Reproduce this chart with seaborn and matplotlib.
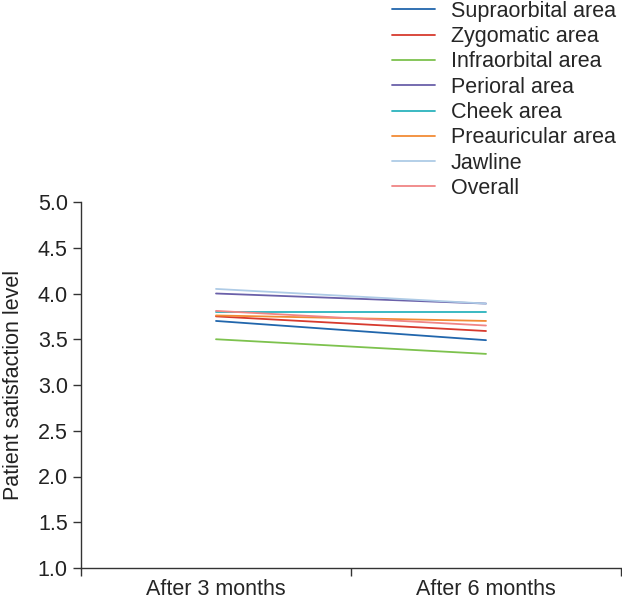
import numpy as np
import pandas as pd
import seaborn as sns
import matplotlib.pyplot as plt
from matplotlib.ticker import FixedLocator, NullFormatter, FixedFormatter

# Data
timepoints = ["After 3 months", "After 6 months"]
areas = ["Supraorbital area", "Zygomatic area", "Infraorbital area", "Perioral area",
         "Cheek area", "Preauricular area", "Jawline", "Overall"]
after_3m = [3.70, 3.75, 3.50, 4.00, 3.80, 3.76, 4.05, 3.81]
after_6m = [3.49, 3.59, 3.34, 3.89, 3.80, 3.70, 3.89, 3.65]
colors = ["#2166ac", "#d73a2e", "#7dc24e", "#6a60a9",
          "#2bb3bd", "#f28b35", "#aecbe6", "#f08585"]

df = pd.DataFrame({
    "area": areas * 2,
    "time": [0.5] * len(areas) + [1.5] * len(areas),
    "score": after_3m + after_6m,
})

sns.set_style("ticks")
plt.rcParams["font.family"] = ["Liberation Sans", "DejaVu Sans"]
FS = 15.5

fig = plt.figure(figsize=(6.22, 5.99), dpi=100)
ax = fig.add_axes([81 / 622, 31 / 599, 540 / 622, 366 / 599])

sns.lineplot(data=df, x="time", y="score", hue="area", hue_order=areas,
             palette=colors, linewidth=1.3, ax=ax, legend=False)

ax.set_xlim(0, 2)
ax.set_ylim(1.0, 5.0)
ax.set_yticks(np.arange(1.0, 5.01, 0.5))
ax.set_yticklabels([f"{v:.1f}" for v in np.arange(1.0, 5.01, 0.5)], fontsize=FS)
ax.xaxis.set_major_locator(FixedLocator([0, 1, 2]))
ax.xaxis.set_major_formatter(NullFormatter())
ax.xaxis.set_minor_locator(FixedLocator([0.5, 1.5]))
ax.xaxis.set_minor_formatter(FixedFormatter(timepoints))
ax.tick_params(axis="x", which="minor", length=0, labelsize=FS, pad=8)
ax.tick_params(axis="both", which="major", length=6, width=1, color="#333333",
               labelcolor="#222222")
ax.set_xlabel("")
ax.set_ylabel("Patient satisfaction level", fontsize=FS, color="#222222", labelpad=10)
for s in ["top", "right"]:
    ax.spines[s].set_visible(False)
for s in ["left", "bottom"]:
    ax.spines[s].set_color("#333333")
    ax.spines[s].set_linewidth(1)

handles = [plt.Line2D([], [], color=c, linewidth=1.3) for c in colors]
fig.legend(handles, areas, loc="upper left", bbox_to_anchor=(383 / 622, 1.013),
           frameon=False, fontsize=FS, handlelength=2.0, handletextpad=0.75,
           labelspacing=0.2, borderaxespad=0)

fig.savefig("out.png", dpi=100)
